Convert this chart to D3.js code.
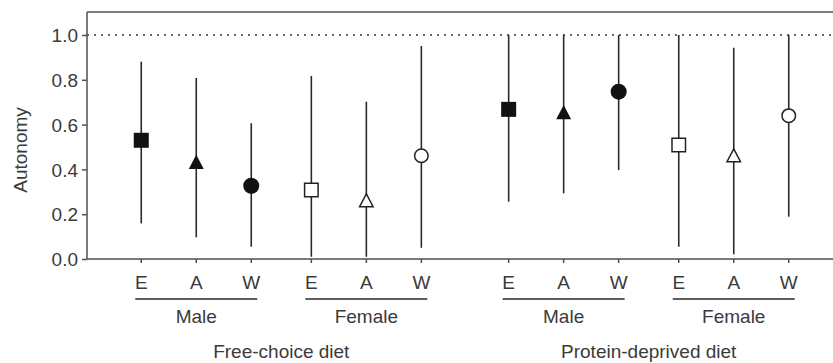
<!DOCTYPE html>
<html>
<head>
<meta charset="utf-8">
<script src="https://cdn.jsdelivr.net/npm/d3@7"></script>
<style>
  body { margin: 0; background: #fff; }
  text { font-family: "Liberation Sans", Arial, sans-serif; fill: #3a3a3a; }
</style>
</head>
<body>
<div id="chart"></div>
<script>
// chart data
var diets = ["Free-choice diet", "Protein-deprived diet"];
var sexes = ["Male", "Female"];
var seasons = ["E", "A", "W"];
// order: diet, sex, season
var means = [0.53, 0.434, 0.327, 0.308, 0.262, 0.461,
             0.668, 0.656, 0.747, 0.509, 0.463, 0.64];
var lows  = [0.159, 0.097, 0.055, 0.01, 0.01, 0.05,
             0.256, 0.293, 0.397, 0.055, 0.021, 0.189];
var highs = [0.881, 0.808, 0.606, 0.817, 0.702, 0.951,
             1.0, 1.0, 1.0, 1.0, 0.943, 1.0];
var yTicks = [0, 0.2, 0.4, 0.6, 0.8, 1.0];

var width = 833, height = 363;
var plotLeft = 87, plotTop = 12, plotBottom = 259;
var fontSize = 19;

var svg = d3.select("#chart").append("svg")
	.attr("width", width)
	.attr("height", height);

var y = d3.scaleLinear().domain([0, 1.1]).range([plotBottom, plotTop + 0.6]);

// nested positions: diet -> sex -> season
var xDiet = d3.scaleBand().domain(diets).range([97.6, 97.6 + 2 * 367.4]);
var xSex = d3.scalePoint().domain(sexes).range([0, xDiet.bandwidth()]).padding(0.58);
var xSeason = d3.scalePoint().domain(seasons).range([-55, 55]);

var points = [];
diets.forEach(function(d, i) {
	sexes.forEach(function(s, j) {
		seasons.forEach(function(e, k) {
			var idx = i * 6 + j * 3 + k;
			points.push({
				diet: d, sex: s, season: e,
				mean: means[idx], low: lows[idx], high: highs[idx],
				x: xDiet(d) + xSex(s) + xSeason(e)
			});
		});
	});
});

var ink = "#2a2a2a", axisInk = "#505050";

// frame: top border
svg.append("line")
	.attr("x1", plotLeft).attr("x2", width)
	.attr("y1", plotTop).attr("y2", plotTop)
	.attr("stroke", axisInk).attr("stroke-width", 1.5);

// reference line at 1.0
svg.append("line")
	.attr("x1", plotLeft).attr("x2", width)
	.attr("y1", y(1)).attr("y2", y(1))
	.attr("stroke", "#666").attr("stroke-width", 1.8)
	.attr("stroke-dasharray", "2,5");

// y axis
var yAxis = d3.axisLeft(y).tickValues(yTicks).tickFormat(d3.format(".1f")).tickSize(5).tickPadding(4);
var gy = svg.append("g").attr("transform", "translate(" + plotLeft + ",0)").call(yAxis);
gy.select(".domain").attr("d", "M0," + y(0) + "V" + plotTop).attr("stroke", axisInk).attr("stroke-width", 1.5);
gy.selectAll(".tick line").attr("stroke", axisInk).attr("stroke-width", 1.5);
gy.selectAll(".tick text").attr("font-size", fontSize).attr("dy", "0.35em");

// x axis line with ticks
svg.append("line")
	.attr("x1", plotLeft).attr("x2", width)
	.attr("y1", plotBottom).attr("y2", plotBottom)
	.attr("stroke", axisInk).attr("stroke-width", 1.5);

svg.selectAll(".xtick")
	.data(points).enter().append("line")
	.attr("x1", function(d) { return d.x; }).attr("x2", function(d) { return d.x; })
	.attr("y1", plotBottom).attr("y2", plotBottom + 4)
	.attr("stroke", axisInk).attr("stroke-width", 1.5);

svg.selectAll(".xlab")
	.data(points).enter().append("text")
	.attr("x", function(d) { return d.x; })
	.attr("y", 288.5)
	.attr("text-anchor", "middle")
	.attr("font-size", fontSize)
	.text(function(d) { return d.season; });

// group underlines + labels
var groups = [];
diets.forEach(function(d) {
	sexes.forEach(function(s) {
		groups.push({ diet: d, sex: s, cx: xDiet(d) + xSex(s) });
	});
});

svg.selectAll(".gline")
	.data(groups).enter().append("line")
	.attr("x1", function(d) { return d.cx + xSeason("E") - 6; })
	.attr("x2", function(d) { return d.cx + xSeason("W") + 6; })
	.attr("y1", 299).attr("y2", 299)
	.attr("stroke", ink).attr("stroke-width", 1.3);

svg.selectAll(".glab")
	.data(groups).enter().append("text")
	.attr("x", function(d) { return d.cx; })
	.attr("y", 323)
	.attr("text-anchor", "middle")
	.attr("font-size", fontSize)
	.text(function(d) { return d.sex; });

svg.selectAll(".dlab")
	.data(diets).enter().append("text")
	.attr("x", function(d) { return xDiet(d) + xDiet.bandwidth() / 2; })
	.attr("y", 358)
	.attr("text-anchor", "middle")
	.attr("font-size", fontSize)
	.text(function(d) { return d; });

// y label
svg.append("text")
	.attr("transform", "translate(26.5,150) rotate(-90)")
	.attr("text-anchor", "middle")
	.attr("font-size", fontSize)
	.text("Autonomy");

// error bars
svg.selectAll(".err")
	.data(points).enter().append("line")
	.attr("x1", function(d) { return d.x; }).attr("x2", function(d) { return d.x; })
	.attr("y1", function(d) { return y(d.low); })
	.attr("y2", function(d) { return y(d.high); })
	.attr("stroke", ink).attr("stroke-width", 1.6);

// markers: side/diameter in px, triangle centred on its bounding box
var triangle = {
	draw: function(ctx, size) {
		var w = Math.sqrt(size), h = w * 0.95;
		ctx.moveTo(0, -h / 2);
		ctx.lineTo(w / 2, h / 2);
		ctx.lineTo(-w / 2, h / 2);
		ctx.closePath();
	}
};
var shapes = { E: d3.symbolSquare, A: triangle, W: d3.symbolCircle };

function symbolSize(d) {
	var open = d.sex === "Female";
	if (d.season === "W") {
		var r = (open ? 13.5 : 16) / 2;
		return Math.PI * r * r;
	}
	var s = open ? 13.5 : 15;
	return s * s;
}

svg.selectAll(".mark")
	.data(points).enter().append("path")
	.attr("transform", function(d) {
		return "translate(" + d.x + "," + y(d.mean) + ")";
	})
	.attr("d", function(d) {
		return d3.symbol().type(shapes[d.season]).size(symbolSize(d))();
	})
	.attr("fill", function(d) { return d.sex === "Male" ? "#111" : "#fff"; })
	.attr("stroke", function(d) { return d.sex === "Male" ? "none" : "#222"; })
	.attr("stroke-width", 1.5);
</script>
</body>
</html>
